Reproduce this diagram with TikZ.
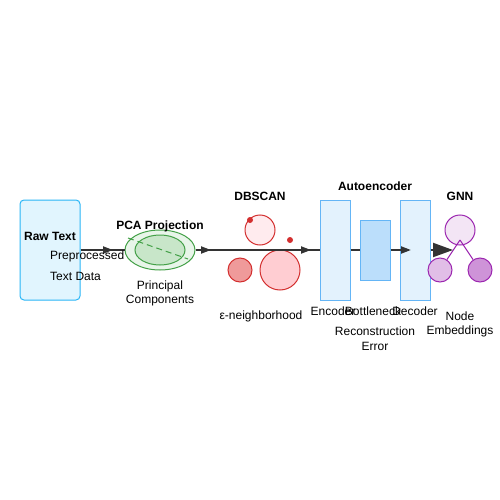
\documentclass[tikz,border=0pt]{standalone}
\usepackage{fontspec}
\setmainfont{Liberation Sans}
\usetikzlibrary{arrows.meta,shapes.geometric}
\definecolor{rawfill}{HTML}{E1F5FE}
\definecolor{rawstroke}{HTML}{29B6F6}
\definecolor{gfill}{HTML}{E8F5E9}
\definecolor{gfill2}{HTML}{C8E6C9}
\definecolor{gstroke}{HTML}{43A047}
\definecolor{rstroke}{HTML}{D32F2F}
\definecolor{rfill1}{HTML}{FFEBEE}
\definecolor{rfill2}{HTML}{EF9A9A}
\definecolor{rfill3}{HTML}{FFCDD2}
\definecolor{bfill}{HTML}{E3F2FD}
\definecolor{bfill2}{HTML}{BBDEFB}
\definecolor{bstroke}{HTML}{64B5F6}
\definecolor{pfill1}{HTML}{F3E5F5}
\definecolor{pfill2}{HTML}{E1BEE7}
\definecolor{pfill3}{HTML}{CE93D8}
\definecolor{pstroke}{HTML}{9C27B0}
\definecolor{linec}{HTML}{333333}
\tikzset{
  lbl/.style={font=\fontsize{12}{14}\selectfont, inner sep=0pt, text=black},
  ttl/.style={font=\fontsize{12}{14}\selectfont\bfseries, inner sep=0pt, text=black},
  flow/.style={draw=linec, line width=2pt},
  arr/.style={flow, -{Triangle[length=10pt,width=7pt]}},
  bigarr/.style={flow, -{Triangle[length=20pt,width=14pt]}},
  layer/.style={draw=bstroke, line width=1pt, fill=bfill},
  redc/.style={draw=rstroke, line width=1pt, circle, inner sep=0pt},
  purc/.style={draw=pstroke, line width=1pt, circle, inner sep=0pt},
}
\begin{document}
\begin{tikzpicture}[x=1pt,y=-1pt]
\useasboundingbox (0,0) rectangle (500,500);
% Raw text
\node[draw=rawstroke, line width=1pt, fill=rawfill, rounded corners=4pt, minimum width=60pt, minimum height=100pt, inner sep=0pt] (raw) at (50,250) {};
\node[ttl] (rawt) at (50,236) {Raw Text};
% PCA
\node[draw=gstroke, line width=1pt, fill=gfill, ellipse, minimum width=70pt, minimum height=40pt, inner sep=0pt] (pca) at (160,250) {};
\node[draw=gstroke, line width=1pt, fill=gfill2, ellipse, minimum width=50pt, minimum height=30pt, inner sep=0pt] (pcain) at (160,250) {};
\coordinate (d1) at (128,238);
\coordinate (d2) at (188,259);
\draw[gstroke, line width=1pt, dash pattern=on 6pt off 4pt] (d1) -- (d2);
\node[ttl] (pcat) at (160,226) {PCA Projection};
\node[lbl] (pc1) at (160,286) {Principal};
\node[lbl] (pc2) at (160,301) {Components};
% arrows raw -> pca
\coordinate (a1) at (113,250);
\draw[flow] (raw.east) -- (pca.west);
\draw[arr] (raw.east) -- (a1);
\node[lbl, anchor=west] (pre1) at (50,256) {Preprocessed};
\node[lbl, anchor=west] (pre2) at (50,276) {Text Data};
% DBSCAN
\node[ttl] (dbt) at (260,196) {DBSCAN};
\node[redc, fill=rfill1, minimum size=30pt] (c1) at (260,230) {};
\node[redc, fill=rfill2, minimum size=24pt] (c2) at (240,270) {};
\node[redc, fill=rfill3, minimum size=40pt] (c3) at (280,270) {};
\node[circle, fill=rstroke, minimum size=6pt, inner sep=0pt] (p1) at (250,220) {};
\node[circle, fill=rstroke, minimum size=6pt, inner sep=0pt] (p2) at (290,240) {};
\node[lbl] (eps) at (261,316) {ε-neighborhood};
% Autoencoder
\node[ttl] (aet) at (375,186) {Autoencoder};
\node[layer, minimum width=30pt, minimum height=100pt, inner sep=0pt] (enc) at (335,250) {};
\node[layer, fill=bfill2, minimum width=30pt, minimum height=60pt, inner sep=0pt] (bot) at (375,250) {};
\node[layer, minimum width=30pt, minimum height=100pt, inner sep=0pt] (dec) at (415,250) {};
% pca -> encoder
\coordinate (a2) at (211,250);
\coordinate (a3) at (311,250);
\draw[flow] (pca.east) -- (enc.west);
\draw[arr] (pca.east) -- (a2);
\draw[arr] (a2) -- (a3);
\draw[flow] (enc.east) -- (bot.west);
\coordinate (a4) at (411,250);
\draw[arr] (bot.east) -- (a4);
\node[lbl] (enct) at (333,311) {Encoder};
\node[lbl] (bott) at (373,311) {Bottleneck};
\node[lbl] (dect) at (415,311) {Decoder};
\node[lbl] (rec1) at (375,331) {Reconstruction};
\node[lbl] (rec2) at (375,346) {Error};
% GNN
\node[ttl] (gnnt) at (460,196) {GNN};
\coordinate (g0) at (460,240);
\node[purc, fill=pfill1, minimum size=30pt] (n1) at (460,230) {};
\node[purc, fill=pfill2, minimum size=24pt] (n2) at (440,270) {};
\node[purc, fill=pfill3, minimum size=24pt] (n3) at (480,270) {};
\draw[pstroke, line width=1pt] (g0) -- (n2) (g0) -- (n3);
\coordinate (a5) at (453,250);
\draw[bigarr] (dec.east) -- (a5);
\node[lbl] (ne1) at (460,316) {Node};
\node[lbl] (ne2) at (460,331) {Embeddings};
\end{tikzpicture}
\end{document}
